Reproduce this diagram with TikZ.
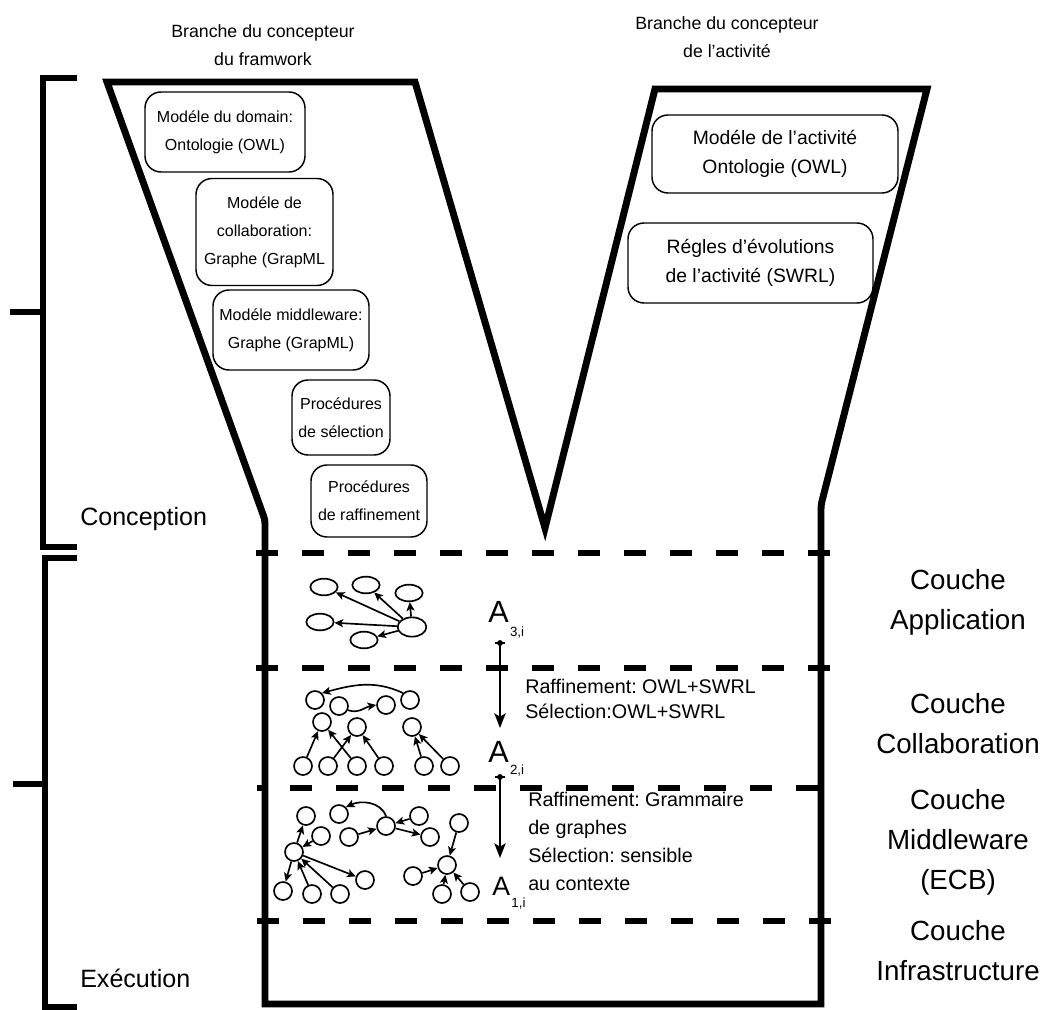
\documentclass[tikz,border=0pt]{standalone}
\usepackage{fontspec}
\setmainfont{Liberation Sans}
\usetikzlibrary{arrows.meta,shapes.geometric}
\frenchspacing
\begin{document}
\begin{tikzpicture}[x=0.75pt,y=-0.75pt,
  outline/.style={line width=5.2pt, line join=miter},
  bracket/.style={line width=5pt, line join=miter},
  layerline/.style={line width=5.2pt, dash pattern=on 16.5pt off 18pt},
  model/.style={draw, line width=1.1pt, rounded corners=12pt, align=center, inner sep=0pt,
    font=\fontsize{12}{21}\selectfont},
  activity/.style={model, font=\fontsize{14.5}{21.5}\selectfont},
  heading/.style={align=center, inner sep=0pt, font=\fontsize{13.3}{21}\selectfont},
  layer/.style={align=center, inner sep=0pt, font=\fontsize{20.8}{30}\selectfont},
  phase/.style={anchor=base west, inner sep=0pt, font=\fontsize{18.8}{22}\selectfont},
  note/.style={anchor=base west, align=left, inner sep=0pt},
  level/.style={anchor=base west, inner sep=0pt},
  ell/.style={draw, ellipse, line width=1.25pt, minimum width=20.5pt, minimum height=12.5pt, inner sep=0pt},
  gc/.style={draw, circle, line width=1.25pt, minimum size=13.5pt, inner sep=0pt},
  gar/.style={line width=1.25pt, -{Stealth[length=6.5pt,width=6pt,inset=1.5pt]}},
  bigar/.style={line width=1.3pt, -{Stealth[length=11pt,width=8.5pt,inset=2.5pt]}}
]
\useasboundingbox (0,0) rectangle (1047,1010);

% ---- outer shape: two design branches merging into the execution stack
\draw[outline] (107,82) -- (415,82) -- (545,528) -- (655,89) -- (927,89)
  -- (823,497.2) .. controls (821,505) .. (821,513) -- (821,1004) -- (265,1004)
  -- (265,528) .. controls (265,520) .. (262.3,512.5) -- cycle;

% ---- brackets on the left
\draw[bracket] (77,78) -- (43,78) -- (43,547) -- (77,547);
\draw[bracket] (10,312) -- (43,312);
\draw[bracket] (77,558) -- (45,558) -- (45,1007) -- (77,1007);
\draw[bracket] (13,784) -- (45,784);

% ---- layer separators
\draw[layerline] (830,553) -- (256,553);
\draw[layerline] (830,668) -- (256,668);
\draw[layerline] (818,788) -- (257,788);
\draw[layerline] (831,921) -- (257,921);

% ---- headings
\node[heading] (hfw) at (263,45) {Branche du concepteur\\du framwork};
\node[heading] (hact) at (727,37) {Branche du concepteur\\de l’activité};

% ---- framework designer models
\node[model, minimum width=120pt, minimum height=60pt] (m1) at (225,132) {Modéle du domain:\\Ontologie (OWL)};
\node[model, minimum width=102.75pt, minimum height=80.25pt] (m2) at (264.5,232) {Modéle de\\collaboration:\\Graphe (GrapML};
\node[model, minimum width=117pt, minimum height=60pt] (m3) at (291,330) {Modéle middleware:\\Graphe (GrapML)};
\node[model, minimum width=73.5pt, minimum height=56.25pt] (m4) at (341,417.5) {Procédures\\de sélection};
\node[model, minimum width=87pt, minimum height=54pt] (m5) at (369,501) {Procédures\\de raffinement};

% ---- activity designer models
\node[activity, minimum width=184.5pt, minimum height=58.5pt] (m6) at (775,154) {Modéle de l’activité\\Ontologie (OWL)};
\node[activity, minimum width=183.75pt, minimum height=60pt] (m7) at (750.5,263) {Régles d’évolutions\\de l’activité (SWRL)};

% ---- phases
\node[phase] (conc) at (80,525) {Conception};
\node[phase] (exec) at (80,987) {Exécution};

% ---- layer names
\node[layer] (lapp) at (958,602) {Couche\\Application};
\node[layer] (lcol) at (958,724) {Couche\\Collaboration};
\node[layer] (lmid) at (958,842) {Couche\\Middleware\\(ECB)};
\node[layer] (linf) at (958,951) {Couche\\Infrastructure};

% ---- application graph
\node[ell] (a1) at (324,587) {};
\node[ell] (a2) at (366,585) {};
\node[ell] (a3) at (409,593) {};
\node[ell] (a4) at (320,622) {};
\node[ell, minimum width=21.5pt, minimum height=14.5pt] (a5) at (412,627) {};
\node[ell] (a6) at (364,640) {};
\foreach \t in {a1,a2,a3,a4,a6} \draw[gar] (a5) -- (\t);

% ---- collaboration graph
\node[gc] (b1) at (315,700) {};
\node[gc] (b2) at (339,706) {};
\node[gc] (b3) at (386,705) {};
\node[gc] (b4) at (410,700) {};
\node[gc] (b5) at (322,722) {};
\node[gc] (b6) at (357,727) {};
\node[gc] (b7) at (412,727) {};
\node[gc] (b8) at (303,766) {};
\node[gc] (b9) at (328,766) {};
\node[gc] (b10) at (357,766) {};
\node[gc] (b11) at (384,766) {};
\node[gc] (b12) at (424,766) {};
\node[gc] (b13) at (450,766) {};
\draw[gar] (b4.north west) to[out=155,in=15] (b1.north east);
\draw[gar] (b2.-25) to[out=-20,in=190] (b3.west);
\draw[gar] (b8) -- (b5);
\draw[gar] (b10) -- (b5);
\draw[gar] (b9) -- (b6);
\draw[gar] (b11) -- (b6);
\draw[gar] (b12) -- (b7);
\draw[gar] (b13) -- (b7);

% ---- middleware graph
\node[gc] (c1) at (306,816) {};
\node[gc] (c2) at (339,814) {};
\node[gc] (c3) at (321,836) {};
\node[gc] (c4) at (294,852) {};
\node[gc] (c5) at (349,837) {};
\node[gc] (c6) at (386,826) {};
\node[gc] (c7) at (419,816) {};
\node[gc] (c8) at (430,837) {};
\node[gc] (c9) at (365,880) {};
\node[gc] (c10) at (283,891) {};
\node[gc] (c11) at (312,894) {};
\node[gc] (c12) at (340,894) {};
\node[gc] (c13) at (459,823) {};
\node[gc] (c14) at (447,865) {};
\node[gc] (c15) at (413,876) {};
\node[gc] (c16) at (442,894) {};
\node[gc] (c17) at (470,892) {};
\draw[gar] (c4) -- (c1);
\draw[gar] (c3) -- (c4);
\draw[gar] (c4) -- (c10);
\draw[gar] (c11) -- (c4);
\draw[gar] (c12) -- (c4);
\draw[gar] (c4) -- (c9);
\draw[gar] (c6.north) to[out=110,in=25] (c2.north east);
\draw[gar] (c5) -- (c6);
\draw[gar] (c7) -- (c6);
\draw[gar] (c6) -- (c8);
\draw[gar] (c13) -- (c14);
\draw[gar] (c15) -- (c14);
\draw[gar] (c16) -- (c14);
\draw[gar] (c17) -- (c14);

% ---- abstraction levels
\node[level, font=\fontsize{23}{26}\selectfont] (A3) at (488,622)
  {A\hspace{1pt}\raisebox{-10.5pt}{\fontsize{10}{12}\selectfont 3,i}};
\node[level, font=\fontsize{23}{26}\selectfont] (A2) at (488,762)
  {A\hspace{1pt}\raisebox{-9pt}{\fontsize{10}{12}\selectfont 2,i}};
\node[level, font=\fontsize{20}{24}\selectfont] (A1) at (492,895)
  {A\hspace{1pt}\raisebox{-9.5pt}{\fontsize{10}{12}\selectfont 1,i}};

\coordinate (s3) at (500,643);
\coordinate (e3) at (500,728);
\coordinate (s2) at (500,777);
\coordinate (e2) at (500,858);
\foreach \s/\e in {s3/e3, s2/e2} {
  \draw[bigar] (\s) -- (\e);
  \fill (\s) circle[radius=2.2pt];
  \draw[line width=1.6pt] ([xshift=-4pt]\s) -- ([xshift=4pt]\s);
}

% multi-line notes: the base anchor is the baseline of the last line
\node[note, font=\fontsize{14.8}{18.75}\selectfont] (n1) at (525,718)
  {Raffinement: OWL+SWRL\\Sélection:OWL+SWRL};
\node[note, font=\fontsize{14.8}{20.8}\selectfont] (n2) at (528,890)
  {Raffinement: Grammaire\\de graphes\\Sélection: sensible\\au contexte};
\end{tikzpicture}
\end{document}
